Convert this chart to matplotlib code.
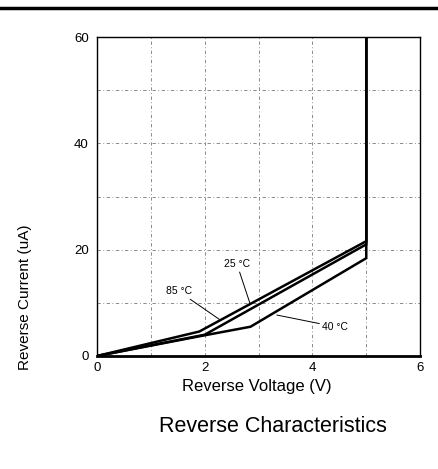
import matplotlib
matplotlib.use("Agg")
import matplotlib.pyplot as plt
from matplotlib.lines import Line2D

plt.rcParams["font.family"] = ["Liberation Sans", "DejaVu Sans"]

# curves: reverse voltage (V) vs reverse current (uA)
v85 = [0, 1.9, 5.0, 5.0]
i85 = [0, 4.6, 21.6, 60]
v25 = [0, 2.0, 5.0, 5.0]
i25 = [0, 4.0, 21.0, 60]
v40 = [0, 1.9, 2.85, 5.0, 5.0]
i40 = [0, 3.7, 5.5, 18.4, 60]

xticks = [0, 2, 4, 6]
yticks = [0, 20, 40, 60]

fig = plt.figure(figsize=(4.39, 4.69), dpi=100)
ax = fig.add_axes([0.221, 0.241, 0.736, 0.680])

for vx, iy in [(v85, i85), (v25, i25), (v40, i40)]:
    ax.plot(vx, iy, color="black", lw=1.8, solid_joinstyle="miter")

ax.set_xlim(0, 6)
ax.set_ylim(0, 60)
ax.set_xticks(xticks)
ax.set_yticks(yticks)
ax.set_xticks(range(0, 7), minor=True)
ax.set_yticks(range(0, 61, 10), minor=True)
ax.grid(which="both", color="#777777", lw=0.6, ls=(0, (4, 3, 1, 3)))
ax.tick_params(which="both", length=0, labelsize=9.5, pad=6)
ax.tick_params(axis="x", pad=4)
for s in ax.spines.values():
    s.set_linewidth(1.0)
ax.spines["bottom"].set_linewidth(2.0)

# leader lines and labels
ax.annotate("85 °C", xy=(2.27, 6.9), xytext=(1.52, 11.2), fontsize=7.5,
            ha="center", va="bottom",
            arrowprops=dict(arrowstyle="-", color="black", lw=0.7, shrinkA=0, shrinkB=0))
ax.annotate("25 °C", xy=(2.84, 9.9), xytext=(2.6, 16.3), fontsize=7.5,
            ha="center", va="bottom",
            arrowprops=dict(arrowstyle="-", color="black", lw=0.7, shrinkA=0, shrinkB=0))
ax.annotate("40 °C", xy=(3.34, 7.7), xytext=(4.18, 5.5), fontsize=7.5,
            ha="left", va="center",
            arrowprops=dict(arrowstyle="-", color="black", lw=0.7, shrinkA=0, shrinkB=0))

fig.text(257 / 439, 1 - 386 / 469, "Reverse Voltage (V)", ha="center", va="center", fontsize=12)
fig.text(25 / 439, 1 - 297 / 469, "Reverse Current (uA)", ha="center", va="center",
         rotation=90, fontsize=11)
fig.text(273 / 439, 1 - 426 / 469, "Reverse Characteristics", ha="center", va="center",
         fontsize=15.5)

fig.add_artist(Line2D([0, 1], [1 - 8 / 469, 1 - 8 / 469], color="black", lw=2.5,
                      transform=fig.transFigure))

fig.savefig("out.png", dpi=100)
